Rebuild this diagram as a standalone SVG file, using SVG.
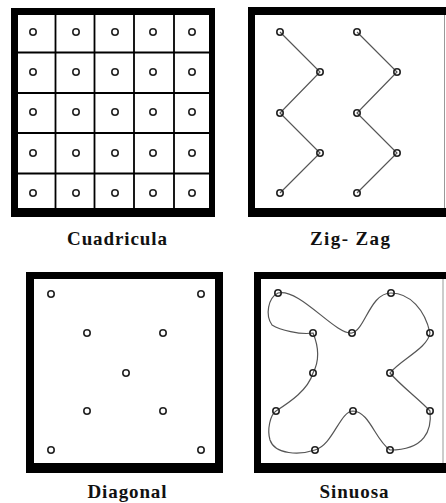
<svg xmlns="http://www.w3.org/2000/svg" width="446" height="503" viewBox="0 0 446 503">
<style>
.frame{fill:#000}
.inner{fill:#fff}
.edge{stroke:#999;stroke-width:1;fill:none}
.grid{stroke:#000;stroke-width:1.8;fill:none}
.pt{fill:none;stroke:#222;stroke-width:1.6}
.link{stroke:#555;stroke-width:1.2;fill:none}
.lbl{font-family:"Liberation Serif","Times New Roman",serif;font-size:19px;font-weight:bold;fill:#111;text-anchor:middle}
</style>
<defs>
<circle id="c" r="3.2" class="pt"/>
</defs>
<rect width="446" height="503" fill="#fff"/>

<g id="cuadricula">
<rect class="frame" x="11" y="8" width="204" height="209"/>
<rect class="inner" x="18" y="15" width="191" height="193"/>
<path class="grid" d="M55.5,15V208M94.5,15V208M134,15V208M174,15V208M18,52.5H209M18,93H209M18,133H209M18,173.5H209"/>
<g>
<use href="#c" x="33" y="32"/><use href="#c" x="76" y="32"/><use href="#c" x="115" y="32"/><use href="#c" x="153" y="32"/><use href="#c" x="192" y="32"/>
<use href="#c" x="33" y="72"/><use href="#c" x="76" y="72"/><use href="#c" x="115" y="72"/><use href="#c" x="153" y="72"/><use href="#c" x="192" y="72"/>
<use href="#c" x="33" y="112"/><use href="#c" x="76" y="112"/><use href="#c" x="115" y="112"/><use href="#c" x="153" y="112"/><use href="#c" x="192" y="112"/>
<use href="#c" x="33" y="153"/><use href="#c" x="76" y="153"/><use href="#c" x="115" y="153"/><use href="#c" x="153" y="153"/><use href="#c" x="192" y="153"/>
<use href="#c" x="33" y="193"/><use href="#c" x="76" y="193"/><use href="#c" x="115" y="193"/><use href="#c" x="153" y="193"/><use href="#c" x="192" y="193"/>
</g>
<text class="lbl" x="117" y="245" textLength="100" lengthAdjust="spacing">Cuadricula</text>
</g>

<g id="zigzag">
<rect class="frame" x="248" y="7" width="210" height="210"/>
<rect class="inner" x="255" y="15" width="191" height="193"/>
<path class="edge" d="M444.5,15V208"/>
<g id="connectors">
<path class="link" d="M280,32L320,72L280,113L320,153L280,193"/>
<path class="link" d="M357,32L397,72L357,113L397,153L357,193"/>
</g>
<use href="#c" x="280" y="32"/><use href="#c" x="320" y="72"/><use href="#c" x="280" y="113"/><use href="#c" x="320" y="153"/><use href="#c" x="280" y="193"/>
<use href="#c" x="357" y="32"/><use href="#c" x="397" y="72"/><use href="#c" x="357" y="113"/><use href="#c" x="397" y="153"/><use href="#c" x="357" y="193"/>
<text class="lbl" x="350" y="245" textLength="80" lengthAdjust="spacing">Zig- Zag</text>
</g>

<g id="diagonal">
<rect class="frame" x="26" y="272" width="197" height="201"/>
<rect class="inner" x="34" y="279" width="181" height="184"/>
<use href="#c" x="51" y="294"/><use href="#c" x="201" y="294"/>
<use href="#c" x="87" y="333"/><use href="#c" x="163" y="333"/>
<use href="#c" x="126" y="373"/>
<use href="#c" x="87" y="411"/><use href="#c" x="163" y="411"/>
<use href="#c" x="51" y="450"/><use href="#c" x="201" y="450"/>
<text class="lbl" x="127" y="498" textLength="79" lengthAdjust="spacing">Diagonal</text>
</g>

<g id="sinuosa">
<rect class="frame" x="254" y="272" width="204" height="201"/>
<rect class="inner" x="261" y="279" width="185" height="184"/>
<path class="edge" d="M443,279V463"/>
<path class="link" d="M278,293 C300,288 335,335 352,333 C365,330 370,293 391,293 C410,293 425,310 430,333 C428,348 400,360 390,373 C400,385 420,400 430,411 C432,430 425,450 390,450 C375,440 370,412 353,411 C340,411 333,445 315,450 C300,455 275,455 270,440 C267,430 270,415 276,411 C290,402 308,390 313,373 C320,360 318,345 313,333 C300,335 280,330 272,325 C265,315 268,298 278,293Z"/>
<use href="#c" x="278" y="293"/><use href="#c" x="391" y="293"/>
<use href="#c" x="313" y="333"/><use href="#c" x="352" y="333"/><use href="#c" x="430" y="333"/>
<use href="#c" x="313" y="373"/><use href="#c" x="390" y="373"/>
<use href="#c" x="276" y="411"/><use href="#c" x="353" y="411"/><use href="#c" x="430" y="411"/>
<use href="#c" x="315" y="450"/><use href="#c" x="390" y="450"/>
<text class="lbl" x="354" y="498" textLength="69" lengthAdjust="spacing">Sinuosa</text>
</g>
</svg>
